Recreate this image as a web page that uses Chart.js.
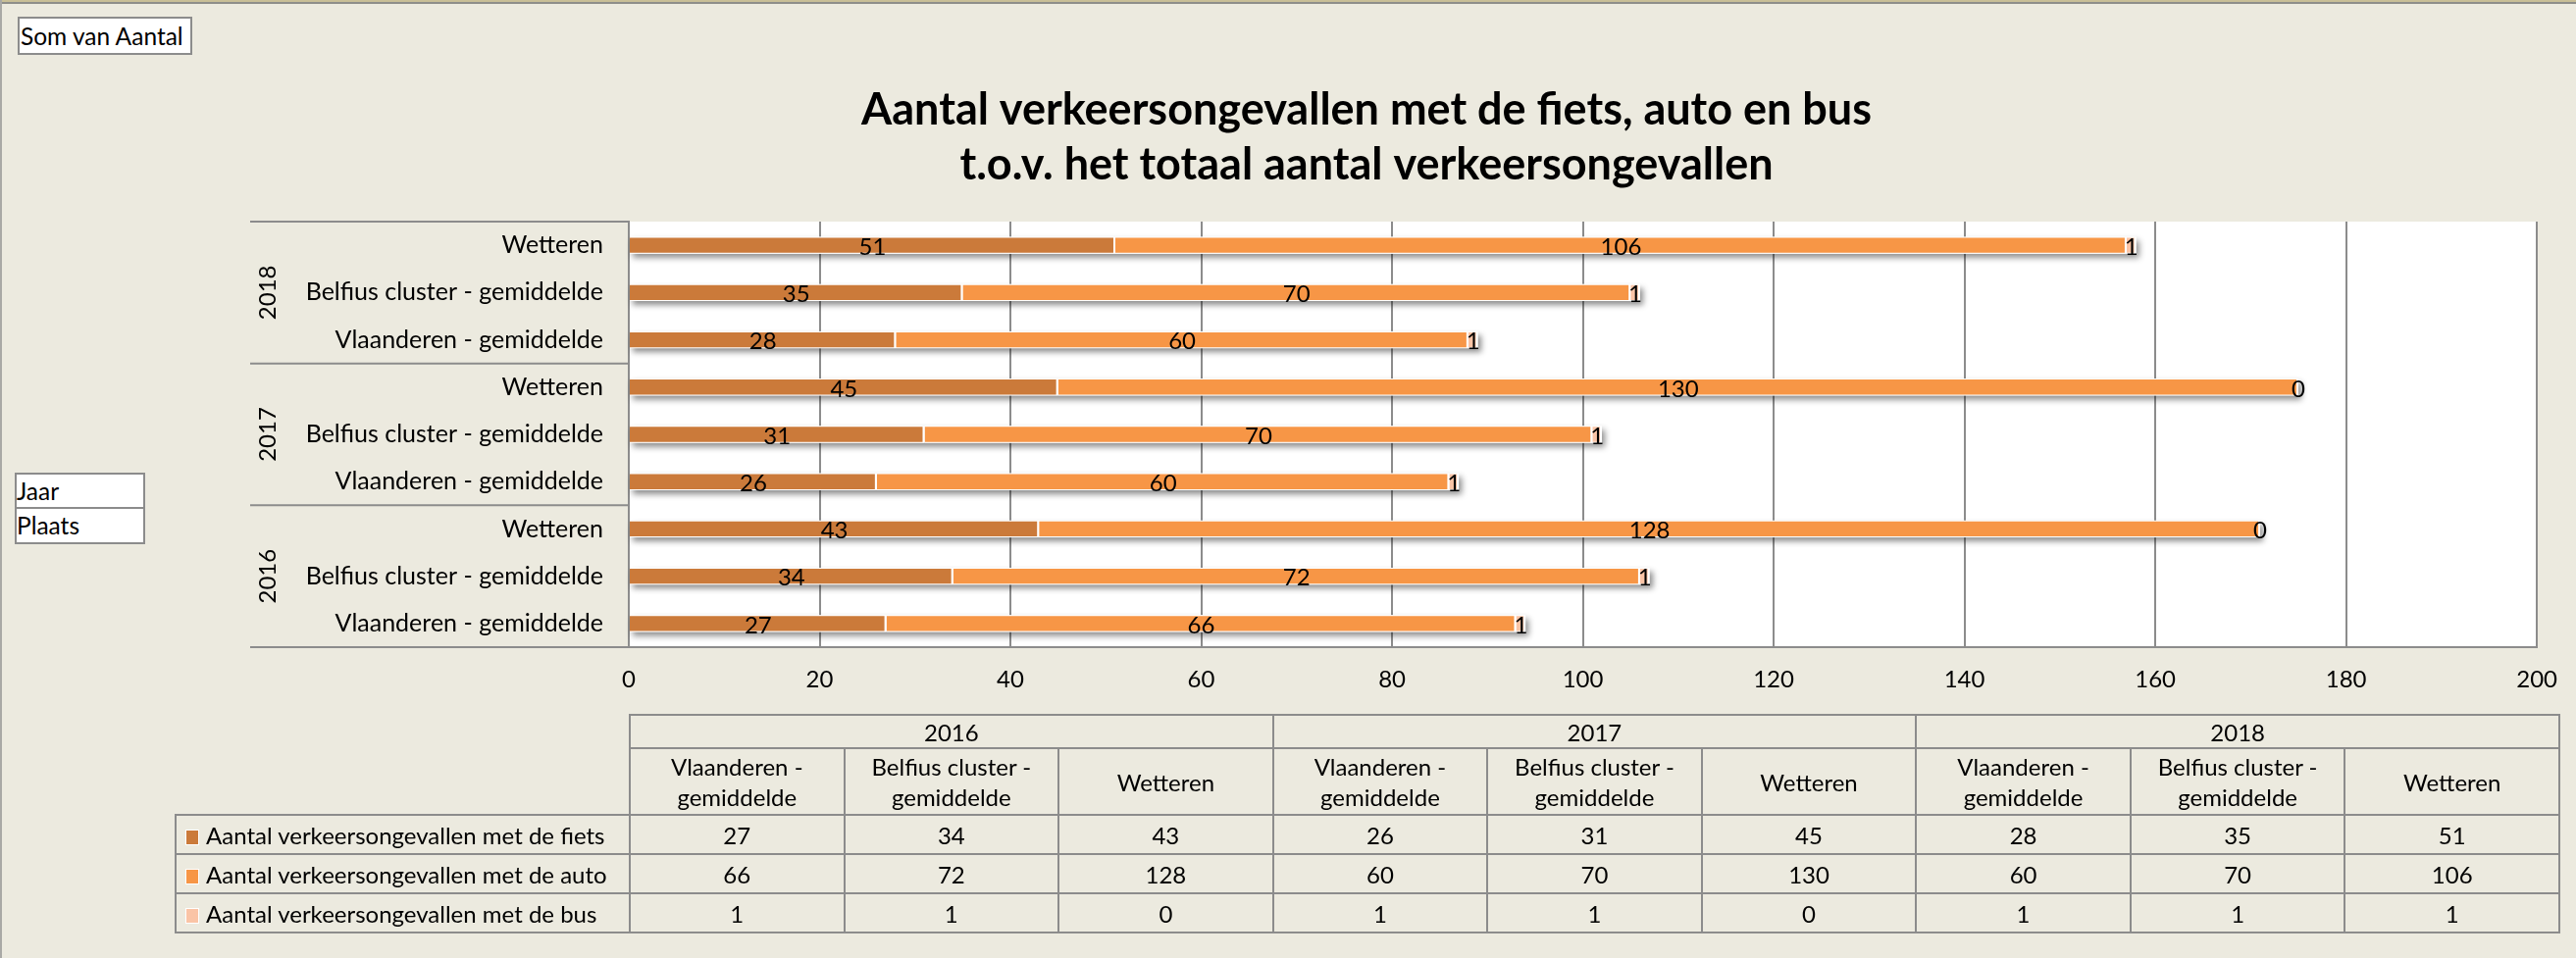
<!DOCTYPE html>
<html lang="nl">
<head>
    <meta charset="UTF-8">
    <title>Aantal verkeersongevallen met de fiets, auto en bus</title>
    <script src="https://cdn.jsdelivr.net/npm/chart.js"></script>
    <style>
        body {
            margin: 0;
            width: 2626px;
            height: 977px;
            background-color: #eceadf;
            font-family: 'Lato', sans-serif;
            overflow: hidden;
            position: relative;
        }
        .rand-boven {
            position: absolute;
            left: 0; top: 0;
            width: 2626px; height: 2px;
            background: #c9bf97;
            border-bottom: 2px solid #8e8e8a;
        }
        .rand-links {
            position: absolute;
            left: 0; top: 0;
            width: 2px; height: 977px;
            background: #a9a9a6;
        }
        #wrap {
            position: absolute;
            left: 0; top: 0;
            width: 2626px; height: 977px;
        }
        .veld {
            position: absolute;
            background: #fff;
            border: 2px solid #8c8c8c;
            font-size: 24.5px;
            color: #000;
            padding-left: 1px;
            box-sizing: border-box;
            white-space: nowrap;
        }
        #som { left: 18px; top: 17px; width: 178px; height: 39px; line-height: 35px; }
        #jaar { left: 15px; top: 482px; width: 133px; height: 37px; line-height: 33px; padding-left: 0; }
        #plaats { left: 15px; top: 517px; width: 133px; height: 38px; line-height: 34px; padding-left: 0; }
        #tabel {
            position: absolute;
            left: 178px; top: 728px;
            width: 2432px;
            border-collapse: collapse;
            table-layout: fixed;
            font-size: 24px;
            color: #000;
        }
        #tabel td {
            border: 2px solid #8c8c8c;
            text-align: center;
            padding: 0;
            white-space: nowrap;
        }
        #tabel td.leeg { border: none; }
        #tabel tr.jaren td { height: 32px; }
        #tabel tr.plaatsen td { height: 66px; line-height: 31px; }
        #tabel tr.data td { height: 38px; }
        #tabel td.legende { text-align: left; padding-left: 9px; }
        .blok {
            display: inline-block;
            width: 12px; height: 14px;
            border: 1px solid #fff;
            margin-right: 7px;
            vertical-align: -1px;
        }
    </style>
</head>
<body>
    <div class="rand-boven"></div>
    <div class="rand-links"></div>
    <div id="wrap"><canvas id="grafiek"></canvas></div>
    <div class="veld" id="som">Som van Aantal</div>
    <div class="veld" id="jaar">Jaar</div>
    <div class="veld" id="plaats">Plaats</div>
    <table id="tabel"></table>

    <script>
        // gegevens (volgorde zoals in de tabel: 2016 -> 2018)
        const jaren = ['2016', '2017', '2018'];
        const plaatsen = ['Vlaanderen - gemiddelde', 'Belfius cluster - gemiddelde', 'Wetteren'];
        const fiets = [27, 34, 43, 26, 31, 45, 28, 35, 51];
        const auto = [66, 72, 128, 60, 70, 130, 60, 70, 106];
        const bus = [1, 1, 0, 1, 1, 0, 1, 1, 1];
        const reeksen = [
            'Aantal verkeersongevallen met de fiets',
            'Aantal verkeersongevallen met de auto',
            'Aantal verkeersongevallen met de bus'
        ];
        const kleuren = ['#cb7a3a', '#f79646', '#fac4a6'];
        const titel = [
            'Aantal verkeersongevallen met de fiets, auto en bus',
            't.o.v. het totaal aantal verkeersongevallen'
        ];

        const labels = [];
        jaren.forEach(j => plaatsen.forEach(p => labels.push(j + ' ' + p)));
        const waarden = [fiets, auto, bus];

        // witte achtergrond van het plotvlak
        const plotvlak = {
            id: 'plotvlak',
            beforeDraw(chart) {
                const {ctx, chartArea: a} = chart;
                ctx.save();
                ctx.fillStyle = '#fff';
                ctx.fillRect(a.left, a.top, a.right - a.left, a.bottom - a.top);
                ctx.restore();
            }
        };

        // schaduw onder elke volledige balk
        const schaduw = {
            id: 'schaduw',
            beforeDatasetsDraw(chart) {
                const ctx = chart.ctx;
                const metas = chart.data.datasets.map((d, i) => chart.getDatasetMeta(i).data);
                ctx.save();
                ctx.shadowColor = 'rgba(0, 0, 0, 0.45)';
                ctx.shadowBlur = 6;
                ctx.shadowOffsetX = 3;
                ctx.shadowOffsetY = 4;
                ctx.fillStyle = '#fff';
                metas[0].forEach((el, i) => {
                    const eind = Math.max(...metas.map(m => m[i].x));
                    ctx.fillRect(el.base, el.y - el.height / 2, eind - el.base, el.height);
                });
                ctx.restore();
            }
        };

        // waarden in de balken
        const etiketten = {
            id: 'etiketten',
            afterDatasetsDraw(chart) {
                const ctx = chart.ctx;
                ctx.save();
                ctx.font = '24px Lato';
                ctx.fillStyle = '#000';
                ctx.textAlign = 'center';
                ctx.textBaseline = 'middle';
                chart.data.datasets.forEach((ds, d) => {
                    chart.getDatasetMeta(d).data.forEach((el, i) => {
                        ctx.fillText(String(ds.data[i]), (el.x + el.base) / 2, el.y + 2);
                    });
                });
                ctx.restore();
            }
        };

        // jaartallen en scheidingslijnen links van de as
        const jaarAs = {
            id: 'jaarAs',
            afterDraw(chart) {
                const {ctx, chartArea: a, scales: {y}} = chart;
                const links = a.left - 386;
                const n = plaatsen.length;
                ctx.save();
                ctx.strokeStyle = '#8c8c8c';
                ctx.lineWidth = 2;
                const lijnen = [a.top, a.bottom];
                for (let g = 1; g < jaren.length; g++) {
                    lijnen.push((y.getPixelForValue(g * n - 1) + y.getPixelForValue(g * n)) / 2);
                }
                lijnen.forEach(py => {
                    ctx.beginPath();
                    ctx.moveTo(links, py);
                    ctx.lineTo(a.left, py);
                    ctx.stroke();
                });
                ctx.font = '24px Lato';
                ctx.fillStyle = '#000';
                ctx.textAlign = 'center';
                ctx.textBaseline = 'middle';
                jaren.forEach((j, g) => {
                    const py = (y.getPixelForValue(g * n) + y.getPixelForValue(g * n + n - 1)) / 2;
                    ctx.save();
                    ctx.translate(links + 18, py);
                    ctx.rotate(-Math.PI / 2);
                    ctx.fillText(j, 0, 0);
                    ctx.restore();
                });
                ctx.restore();
            }
        };

        new Chart(document.getElementById('grafiek'), {
            type: 'bar',
            data: {
                labels: labels,
                datasets: waarden.map((rij, k) => ({
                    label: reeksen[k],
                    data: rij,
                    backgroundColor: kleuren[k],
                    borderColor: '#fff',
                    borderWidth: {top: 1, right: 2, bottom: 1, left: 0},
                    borderSkipped: false,
                    barPercentage: 0.36,
                    categoryPercentage: 1
                }))
            },
            options: {
                indexAxis: 'y',
                responsive: true,
                maintainAspectRatio: false,
                animation: false,
                layout: {
                    padding: {left: 196, right: 36, top: 0, bottom: 257}
                },
                plugins: {
                    legend: {display: false},
                    tooltip: {enabled: false},
                    title: {
                        display: true,
                        text: titel,
                        color: '#000',
                        font: {family: 'Lato', size: 45, weight: 'bold', lineHeight: 56 / 45},
                        padding: {top: 84, bottom: 30}
                    }
                },
                scales: {
                    x: {
                        stacked: true,
                        min: 0,
                        max: 200,
                        ticks: {
                            stepSize: 20,
                            color: '#000',
                            font: {family: 'Lato', size: 24},
                            padding: 19
                        },
                        grid: {color: '#8c8c8c', lineWidth: 2, drawTicks: false},
                        border: {color: '#8c8c8c', width: 2},
                        afterFit(s) { s.height = 60; }
                    },
                    y: {
                        stacked: true,
                        reverse: true,
                        ticks: {
                            color: '#000',
                            font: {family: 'Lato', size: 25},
                            padding: 26,
                            callback: (v, i) => plaatsen[i % plaatsen.length]
                        },
                        grid: {display: false, drawTicks: false},
                        border: {color: '#8c8c8c', width: 2},
                        afterFit(s) { s.width = 445; }
                    }
                }
            },
            plugins: [plotvlak, schaduw, etiketten, jaarAs]
        });

        // gegevenstabel onder de grafiek
        let html = '<colgroup><col style="width:463px">' +
            labels.map(() => '<col>').join('') + '</colgroup>';
        html += '<tr class="jaren"><td class="leeg"></td>' +
            jaren.map(j => `<td colspan="${plaatsen.length}">${j}</td>`).join('') + '</tr>';
        html += '<tr class="plaatsen"><td class="leeg"></td>' +
            jaren.map(() => plaatsen.map(p => `<td>${p.replace(' - ', ' -<br>')}</td>`).join('')).join('') + '</tr>';
        waarden.forEach((rij, k) => {
            html += `<tr class="data"><td class="legende"><span class="blok" style="background:${kleuren[k]}"></span>${reeksen[k]}</td>` +
                rij.map(v => `<td>${v}</td>`).join('') + '</tr>';
        });
        document.getElementById('tabel').innerHTML = html;
    </script>
</body>
</html>
